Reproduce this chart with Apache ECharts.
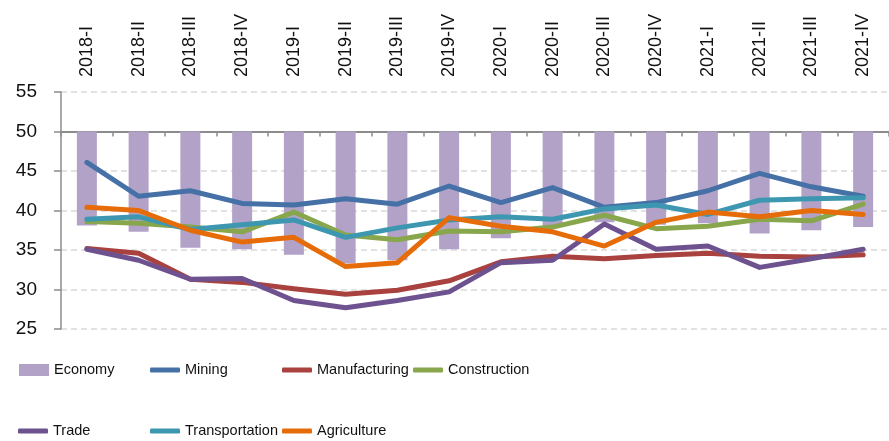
<!DOCTYPE html>
<html>
<head>
<meta charset="utf-8">
<script src="https://cdn.jsdelivr.net/npm/echarts@6/dist/echarts.min.js"></script>
<style>
  html, body { margin: 0; padding: 0; background: #fff; }
  #chart { width: 889px; height: 441px; }
</style>
</head>
<body>
<div id="chart"></div>
<script>
// quarters along the top axis
const categories = ['2018-I', '2018-II', '2018-III', '2018-IV', '2019-I', '2019-II', '2019-III', '2019-IV',
  '2020-I', '2020-II', '2020-III', '2020-IV', '2021-I', '2021-II', '2021-III', '2021-IV'];

// index values
const economy        = [38.1, 37.3, 35.3, 35.1, 34.4, 33.3, 33.7, 35.1, 36.5, 38.0, 38.5, 38.2, 38.4, 37.1, 37.5, 37.9];
const mining         = [46.1, 41.8, 42.5, 40.9, 40.7, 41.5, 40.8, 43.1, 41.0, 42.9, 40.4, 41.0, 42.5, 44.7, 43.0, 41.8];
const manufacturing  = [35.2, 34.6, 31.3, 30.9, 30.1, 29.4, 29.9, 31.1, 33.5, 34.2, 33.9, 34.3, 34.6, 34.2, 34.1, 34.4];
const construction   = [38.6, 38.4, 37.9, 37.3, 39.8, 36.9, 36.3, 37.4, 37.3, 37.9, 39.4, 37.7, 38.0, 38.9, 38.7, 40.8];
const trade          = [35.1, 33.7, 31.3, 31.4, 28.6, 27.7, 28.6, 29.7, 33.4, 33.7, 38.3, 35.1, 35.5, 32.8, 33.9, 35.1];
const transportation = [38.9, 39.2, 37.6, 38.2, 38.8, 36.6, 37.8, 38.8, 39.2, 38.9, 40.2, 40.7, 39.5, 41.3, 41.5, 41.6];
const agriculture    = [40.4, 40.0, 37.5, 36.0, 36.6, 32.9, 33.4, 39.1, 38.0, 37.3, 35.5, 38.5, 39.8, 39.2, 40.0, 39.5];

// the bars hang down from this level
const baseLevel = 50;
const yTicks = { min: 25, max: 55, interval: 5 };

const lineSeries = [
  { name: 'Mining', data: mining, color: '#4571a7' },
  { name: 'Manufacturing', data: manufacturing, color: '#a9423f' },
  { name: 'Construction', data: construction, color: '#88a64b' },
  { name: 'Trade', data: trade, color: '#6d528f' },
  { name: 'Transportation', data: transportation, color: '#3e97b0' },
  { name: 'Agriculture', data: agriculture, color: '#e66c0a' }
];

const chart = echarts.init(document.getElementById('chart'));

const labelFont = '"Liberation Sans", Arial, sans-serif';
const legendFont = '"Liberation Sans", Arial, sans-serif';

// plot box in pixels; the category line is pushed down from the top to the 50 level
const plotTop = 92;
const plotBottom = 112;
const plotHeight = 441 - plotTop - plotBottom;
const baseOffset = plotHeight * (yTicks.max - baseLevel) / (yTicks.max - yTicks.min);

// legend laid out in fixed columns, like the original
const legendPlaces = [
  { name: 'Economy', left: 19, top: 362 },
  { name: 'Mining', left: 150, top: 362 },
  { name: 'Manufacturing', left: 282, top: 362 },
  { name: 'Construction', left: 413, top: 362 },
  { name: 'Trade', left: 18, top: 423 },
  { name: 'Transportation', left: 150, top: 423 },
  { name: 'Agriculture', left: 282, top: 423 }
];

const legends = legendPlaces.map(function (p) {
  const isBar = p.name === 'Economy';
  return {
    data: [p.name],
    left: p.left,
    top: p.top,
    padding: 0,
    icon: isBar ? 'rect' : 'roundRect',
    itemWidth: 30,
    itemHeight: isBar ? 12 : 5,
    selectedMode: false,
    textStyle: { fontFamily: legendFont, fontSize: 14.5, color: '#111', lineHeight: 16 }
  };
});

const series = [
  {
    // invisible filler so the visible bar starts at the economy value
    name: 'base',
    type: 'bar',
    stack: 'eco',
    barWidth: 20,
    silent: true,
    itemStyle: { color: 'rgba(0,0,0,0)' },
    data: economy
  },
  {
    name: 'Economy',
    type: 'bar',
    stack: 'eco',
    barWidth: 20,
    itemStyle: { color: '#b3a2c7' },
    data: economy.map(function (v) { return +(baseLevel - v).toFixed(2); })
  }
].concat(lineSeries.map(function (s) {
  return {
    name: s.name,
    type: 'line',
    data: s.data,
    symbol: 'none',
    z: 3,
    itemStyle: { color: s.color },
    lineStyle: { color: s.color, width: 5, cap: 'round', join: 'round' }
  };
}));

const option = {
  animation: false,
  legend: legends,
  grid: { left: 61, right: -6, top: plotTop, bottom: plotBottom },
  xAxis: {
    type: 'category',
    position: 'top',
    offset: -baseOffset,
    data: categories,
    axisLine: { show: true, onZero: false, lineStyle: { color: '#8c8c8c', width: 2 } },
    axisTick: { show: true, inside: true, interval: 0, length: 5, lineStyle: { color: '#8c8c8c', width: 1.5 } },
    axisLabel: { rotate: -90, interval: 0, margin: 15 + baseOffset, fontFamily: labelFont, fontSize: 18, color: '#111' }
  },
  yAxis: {
    type: 'value',
    min: yTicks.min,
    max: yTicks.max,
    interval: yTicks.interval,
    axisLine: { show: true, lineStyle: { color: '#8c8c8c', width: 1.5 } },
    axisTick: { show: true, length: 7, lineStyle: { color: '#8c8c8c', width: 1.5 } },
    axisLabel: { margin: 24, fontFamily: labelFont, fontSize: 19, color: '#111' },
    splitLine: { show: true, lineStyle: { color: '#d9d9d9', width: 1.5, type: [6, 4] } }
  },
  series: series
};

chart.setOption(option);
</script>
</body>
</html>
